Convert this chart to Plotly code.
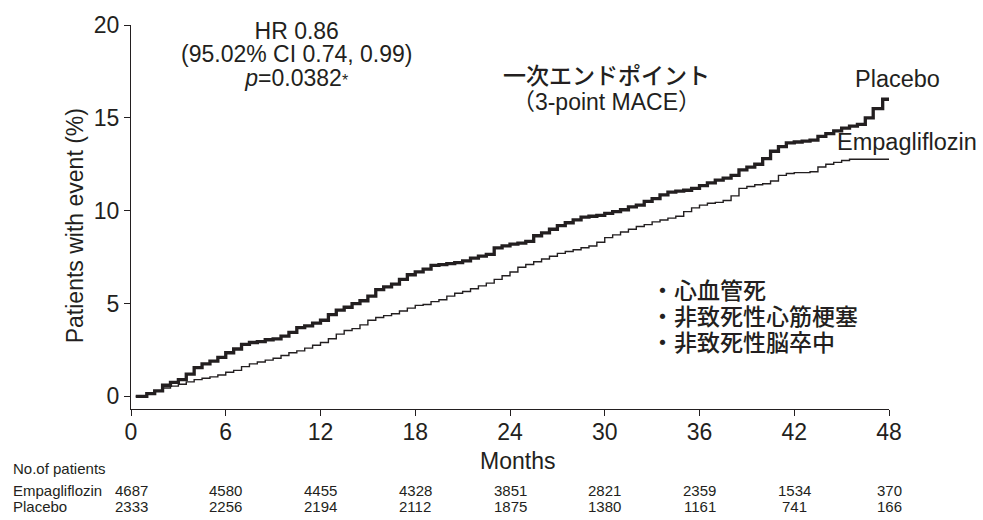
import plotly.graph_objects as go

# ---- data ----
placebo_months = [0.3, 1, 1.5, 2, 2.5, 3, 3.5, 4, 4.5, 5, 5.5, 6, 6.5, 7, 7.5, 8, 8.5, 9, 9.5, 10,
                  10.5, 11, 11.5, 12, 12.5, 13, 13.5, 14, 14.5, 15, 15.5, 16, 16.5, 17, 17.5, 18,
                  18.5, 19, 19.5, 20, 20.5, 21, 21.5, 22, 22.5, 23, 23.5, 24, 24.5, 25, 25.5, 26,
                  26.5, 27, 27.5, 28, 28.5, 29, 29.5, 30, 30.5, 31, 31.5, 32, 32.5, 33, 33.5, 34,
                  34.5, 35, 35.5, 36, 36.5, 37, 37.5, 38, 38.5, 39, 39.5, 40, 40.5, 41, 41.5, 42,
                  42.5, 43, 43.5, 44, 44.5, 45, 45.5, 46, 46.5, 47, 47.6, 48]
placebo_pct = [0, 0.15, 0.3, 0.6, 0.75, 0.9, 1.2, 1.55, 1.75, 1.9, 2.1, 2.35, 2.55, 2.8, 2.9, 2.95,
               3.05, 3.1, 3.25, 3.45, 3.7, 3.8, 3.95, 4.1, 4.4, 4.65, 4.8, 5.0, 5.15, 5.4, 5.75, 5.9,
               6.05, 6.3, 6.55, 6.7, 6.85, 7.05, 7.1, 7.15, 7.2, 7.3, 7.45, 7.55, 7.65, 8.0, 8.1, 8.2,
               8.25, 8.35, 8.65, 8.8, 9.0, 9.2, 9.35, 9.5, 9.65, 9.7, 9.75, 9.85, 9.95, 10.05, 10.2,
               10.3, 10.5, 10.65, 10.85, 11.0, 11.05, 11.1, 11.2, 11.35, 11.5, 11.65, 11.75, 11.9,
               12.2, 12.35, 12.5, 12.8, 13.2, 13.45, 13.65, 13.7, 13.75, 13.8, 14.0, 14.15, 14.3,
               14.45, 14.55, 14.65, 15.0, 15.5, 16.0, 16.0]

empa_months = [0.3, 1, 1.5, 2, 2.5, 3, 3.5, 4, 4.5, 5, 5.5, 6, 6.5, 7, 7.5, 8, 8.5, 9, 9.5, 10,
               10.5, 11, 11.5, 12, 12.5, 13, 13.5, 14, 14.5, 15, 15.5, 16, 16.5, 17, 17.5, 18,
               18.5, 19, 19.5, 20, 20.5, 21, 21.5, 22, 22.5, 23, 23.5, 24, 24.5, 25, 25.5, 26,
               26.5, 27, 27.5, 28, 28.5, 29, 29.5, 30, 30.5, 31, 31.5, 32, 32.5, 33, 33.5, 34,
               34.5, 35, 35.5, 36, 36.5, 37, 37.5, 38, 38.5, 39, 39.5, 40, 40.5, 41, 41.5, 42,
               42.5, 43, 43.5, 44, 44.5, 45, 45.5, 48]
empa_pct = [0, 0.15, 0.3, 0.45, 0.55, 0.65, 0.78, 0.9, 0.98, 1.05, 1.15, 1.3, 1.4, 1.6, 1.75, 1.85,
            1.95, 2.05, 2.2, 2.35, 2.45, 2.6, 2.75, 2.9, 3.1, 3.35, 3.55, 3.65, 3.85, 4.1, 4.25, 4.35,
            4.45, 4.6, 4.75, 4.9, 4.95, 5.1, 5.2, 5.4, 5.55, 5.65, 5.8, 5.95, 6.1, 6.3, 6.5, 6.7,
            6.95, 7.1, 7.25, 7.4, 7.55, 7.7, 7.8, 7.9, 8.0, 8.1, 8.3, 8.55, 8.7, 8.85, 9.0, 9.15,
            9.25, 9.4, 9.5, 9.6, 9.7, 9.95, 10.15, 10.3, 10.4, 10.45, 10.55, 10.8, 11.2, 11.3, 11.4,
            11.45, 11.6, 11.9, 12.0, 12.05, 12.05, 12.1, 12.35, 12.5, 12.6, 12.7, 12.77, 12.77]

x_ticks = [0, 6, 12, 18, 24, 30, 36, 42, 48]
y_ticks = [0, 5, 10, 15, 20]
risk_empa = [4687, 4580, 4455, 4328, 3851, 2821, 2359, 1534, 370]
risk_placebo = [2333, 2256, 2194, 2112, 1875, 1380, 1161, 741, 166]

stats_lines = ["HR 0.86", "(95.02% CI 0.74, 0.99)",
               "<i>p</i>=0.0382<span style='font-size:16px'>*</span>"]
endpoint_lines = ["一次エンドポイント", "（3-point MACE）"]
component_lines = ["・心血管死", "・非致死性心筋梗塞", "・非致死性脳卒中"]

INK = "#231f20"
LATIN = "Liberation Sans, Arial, sans-serif"
CJK = "Noto Sans CJK JP, sans-serif"


def block(lines, size, family, weight="normal"):
    """Wrap each line in a sized span so the line pitch follows the (smaller) base font."""
    return "<br>".join(
        f"<span style='font-size:{size}px;font-family:{family};font-weight:{weight}'>{t}</span>"
        for t in lines)


fig = go.Figure()
fig.add_trace(go.Scatter(x=empa_months, y=empa_pct, mode="lines", line_shape="hv",
                         line=dict(color=INK, width=1.4), name="Empagliflozin",
                         showlegend=False))
fig.add_trace(go.Scatter(x=placebo_months, y=placebo_pct, mode="lines", line_shape="hv",
                         line=dict(color=INK, width=3.3), name="Placebo",
                         showlegend=False))

axis_common = dict(showline=True, linecolor=INK, linewidth=1.3, ticks="outside",
                   ticklen=6, tickwidth=1.3, tickcolor=INK, showgrid=False, zeroline=False,
                   tickfont=dict(family=LATIN, size=23, color=INK))
fig.update_xaxes(range=[0, 48], tickvals=x_ticks, ticktext=[str(v) for v in x_ticks],
                 ticklabelstandoff=-4, **axis_common)
fig.update_yaxes(range=[-0.68, 20], tickvals=y_ticks, ticktext=[str(v) for v in y_ticks],
                 **axis_common)

ann = []
# axis titles
ann.append(dict(text="Patients with event (%)", xref="paper", yref="paper", x=-0.0746, y=0.477,
                textangle=-90, showarrow=False, font=dict(family=LATIN, size=23, color=INK),
                xanchor="center", yanchor="middle"))
ann.append(dict(text="Months", xref="paper", yref="paper", x=0.51, y=-0.135,
                showarrow=False, font=dict(family=LATIN, size=23, color=INK),
                xanchor="center", yanchor="middle"))

# stats block (line pitch ~23.5 px)
ann.append(dict(text=block(stats_lines, 23, "Liberation Sans"), x=10.5, y=18.39,
                xref="x", yref="y", showarrow=False, align="center",
                font=dict(family=LATIN, size=18, color=INK),
                xanchor="center", yanchor="middle"))

# endpoint title (line pitch ~26 px)
ann.append(dict(text=block([endpoint_lines[0]], 23, "Noto Sans CJK JP", 500) + "<br>" +
                block([endpoint_lines[1]], 23, "Liberation Sans, Noto Sans CJK JP"),
                x=30.1, y=16.72, xref="x", yref="y", showarrow=False, align="center",
                font=dict(family=LATIN, size=20, color=INK),
                xanchor="center", yanchor="middle"))

# series labels
ann.append(dict(text="Placebo", x=45.7, y=17.1, xref="x", yref="y", showarrow=False,
                font=dict(family=LATIN, size=23.5, color=INK), xanchor="left", yanchor="middle"))
ann.append(dict(text="Empagliflozin", x=44.55, y=13.72, xref="x", yref="y", showarrow=False,
                font=dict(family=LATIN, size=23.5, color=INK), xanchor="left", yanchor="middle"))

# components (line pitch ~26 px)
ann.append(dict(text=block(component_lines, 23, "Noto Sans CJK JP", 500), x=32.8, y=4.37,
                xref="x", yref="y", showarrow=False, align="left",
                font=dict(family=CJK, size=20, color=INK),
                xanchor="left", yanchor="middle"))

# risk table
small = dict(family=LATIN, size=15, color=INK)
ann.append(dict(text="No.of patients", xref="paper", yref="paper", x=-0.1578, y=-0.1556,
                showarrow=False, font=small, xanchor="left", yanchor="middle"))
ann.append(dict(text="Empagliflozin", xref="paper", yref="paper", x=-0.1578, y=-0.2117,
                showarrow=False, font=small, xanchor="left", yanchor="middle"))
ann.append(dict(text="Placebo", xref="paper", yref="paper", x=-0.1578, y=-0.255,
                showarrow=False, font=small, xanchor="left", yanchor="middle"))
for m, a, b in zip(x_ticks, risk_empa, risk_placebo):
    ann.append(dict(text=str(a), xref="x", yref="paper", x=m, y=-0.2117, showarrow=False,
                    font=small, xanchor="center", yanchor="middle"))
    ann.append(dict(text=str(b), xref="x", yref="paper", x=m, y=-0.255, showarrow=False,
                    font=small, xanchor="center", yanchor="middle"))

fig.update_layout(width=983, height=520, margin=dict(l=131, r=94, t=17, b=111),
                  plot_bgcolor="white", paper_bgcolor="white", annotations=ann,
                  showlegend=False)

fig.write_html("out.html")
